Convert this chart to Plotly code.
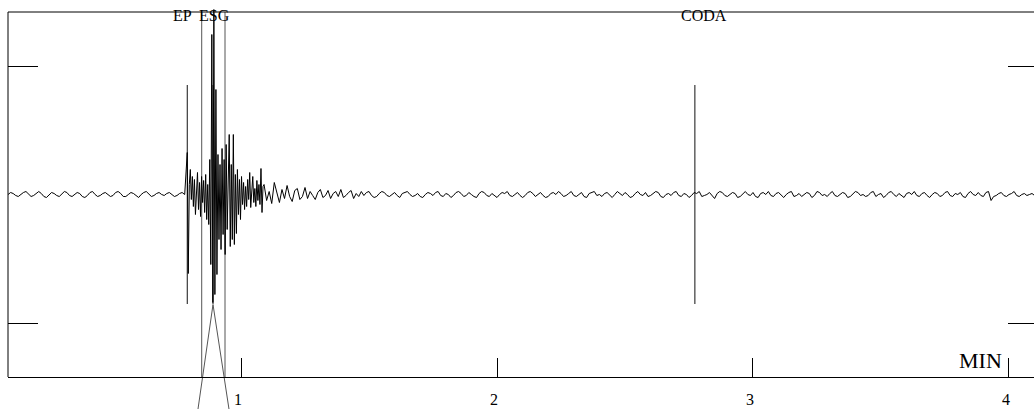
import plotly.graph_objects as go

# ---------------- data ----------------
# seismogram amplitude (counts, up = positive), three sampled segments
PRE_T0, PRE_DT = 0.09, 0.01          # minutes
pre_counts = [0, 2, 1, -1, -2, 0, 2, 3, 0, -2, -1, 1, 3, 1, -2, -3, 0, 2, 1, -1,
              -2, 1, 3, 2, -1, -2, 0, 2, 1, -2, -3, -1, 2, 3, 0, -2, -1, 1, 2, 0,
              -2, -1, 2, 3, 1, -2, -2, 0, 2, 1, -1, -3, 0, 2, 3, 0, -2, -1, 1, 2,
              0, -1, 1, 2, 0, -2, -1, 1, 2, 0]

STRONG_T0, STRONG_DT = 0.79, 0.004
strong_counts = [42, -79, 10, 25, -5, 18, -12, 15, -20, 8, 22, -15, 12, -22, 18, -8,
                 14, -18, 20, -25, 10, -30, 35, -70, 160, -108, 185, -100, 105, -80,
                 40, -45, 30, -55, 46, -40, 35, -60, 50, -35, 25, 60, -52, 30, -45,
                 60, -50, 20, -39, 25, -20, 15, -25, 18, -10, 12, -15, 8, -12, 15,
                 -5, 22, -13, 10, 18, -8, 6, -12, 14, -6, 10, -10, 26, -18, 8]

CODA_T0, CODA_DT = 1.09, 0.01
coda_counts = [10, -6, 3, -9, 12, 2, -8, 5, -4, 9, -2, -7, 4, 6, -5, -2, 7, -4, 3, -1,
               -5, 2, 5, -3, -1, 4, -4, 1, 3, -2, 5, -3, -1, 2, 4, -4, 1, -2, 3, -1,
               2, 3, -1, -3, -2, 1, 3, 2, -1, -2, 0, 2, -1, -3, 1, 2, 3, 0, -2, -1,
               1, -2, -3, 0, 2, 1, -1, 2, 3, -1, -2, 1, 0, -3, -1, 2, 3, 1, -2, -1,
               2, 0, -2, -3, 1, 3, 2, -1, -2, 1, -1, -3, 0, 2, 1, 3, -1, -2, 0, 2,
               -1, -3, -1, 2, 3, 1, -2, 0, 2, -1, -3, -2, 1, 2, 0, 3, 1, -2, -1, 1,
               3, -1, -2, 0, 2, -2, -3, 1, 2, 3, -1, 0, -2, 1, 2, -1, -3, 0, 3, 1,
               -1, 2, 0, -3, -2, 1, 3, 0, -1, 2, -2, -1, 1, 3, 2, -2, -3, 0, 1, -1,
               2, 3, -1, -2, 1, 0, -3, -1, 2, 1, 3, -2, -1, 0, 2, -1, -4, 1, 3, 2,
               -1, -2, 0, 2, 1, -3, -2, 1, 3, 0, -1, 2, -2, -3, 1, 2, 0, 3, -1, -2,
               1, 2, -1, -3, 0, 2, 3, -2, -1, 1, -2, 0, 2, 1, -3, -1, 3, 2, -1, 0,
               -2, 1, 3, -1, -2, 0, 2, 1, -3, -2, 1, 3, 2, -1, 0, -2, -1, 2, 3, -2,
               0, 1, -3, -1, 2, 3, 0, -2, 1, -1, -3, 1, 2, 0, 3, -1, -2, 1, 2, -1,
               -3, 0, 2, 1, -2, -1, 2, 3, -1, -2, 1, 0, 2, -2, -3, 1, 3, 0, -1, 2,
               -1, -2, 2, 3, -6, -2, -1, 1, 2, -1, -2, 0, 1, 3, -1, -2, 0, 1, -1, 0,
               1, -1]

# phase picks (minutes)
pick_labels = ["EP", "ESG", "CODA"]
pick_times = [0.790, 0.8906, 2.773]
PICK_HALF = 109.5                      # counts

# period / amplitude measurement marks (minutes)
period_times = [0.8465, 0.9375]
apex_time, apex_count = 0.8906, -110.0
foot_times, foot_count = [0.832, 0.953], -214.5

# axis ticks
tick_minutes = [1, 2, 3, 4]
tick_labels = ["1", "2", "3", "4"]
scale_counts = [-128.5, 128.5]
FRAME = 182.5
X_RANGE = [0.0898, 4.0977]
Y_RANGE = [-214.5, 194.5]
W, H = 1034, 409

# ---------------- figure ----------------
def seg(t0, dt, vals):
    return [t0 + i * dt for i in range(len(vals))], vals

t1, v1 = seg(PRE_T0, PRE_DT, pre_counts)
t2, v2 = seg(STRONG_T0, STRONG_DT, strong_counts)
t3, v3 = seg(CODA_T0, CODA_DT, coda_counts)
t_all = t1 + t2 + t3
v_all = v1 + v2 + v3

fig = go.Figure()

# pick lines
px, py = [], []
for t in pick_times:
    px += [t, t, None]
    py += [PICK_HALF, -PICK_HALF, None]
fig.add_trace(go.Scatter(x=px, y=py, mode="lines", line=dict(color="#111", width=1),
                         hoverinfo="skip", showlegend=False))

# period lines
qx, qy = [], []
for t in period_times:
    qx += [t, t, None]
    qy += [FRAME, -FRAME, None]
for t in foot_times:
    qx += [apex_time, t, None]
    qy += [apex_count, foot_count, None]
fig.add_trace(go.Scatter(x=qx, y=qy, mode="lines", line=dict(color="#555", width=1),
                         hoverinfo="skip", showlegend=False))

# seismogram
fig.add_trace(go.Scatter(x=t_all, y=v_all, mode="lines", line=dict(color="#000", width=1),
                         hoverinfo="skip", showlegend=False))

# dummy trace for right scale axis
fig.add_trace(go.Scatter(x=[pick_times[0]], y=[0], yaxis="y2", mode="lines",
                         line=dict(width=0), hoverinfo="skip", showlegend=False))

serif = "Liberation Serif"
for lab, t in zip(pick_labels, pick_times):
    fig.add_annotation(x=t, y=FRAME, xref="x", yref="y", text=lab, showarrow=False,
                       xanchor="left", yanchor="middle", xshift=-16, yshift=-3,
                       font=dict(family=serif, size=16, color="#000"))
fig.add_annotation(x=3.980, y=-165.5, xref="x", yref="y", text="MIN", showarrow=False,
                   xanchor="right", yanchor="middle",
                   font=dict(family=serif, size=22, color="#000"))

# frame lines
fig.add_shape(type="line", xref="paper", yref="y", x0=0, x1=1, y0=FRAME, y1=FRAME,
              line=dict(color="#000", width=1))
fig.add_shape(type="line", xref="paper", yref="y", x0=0, x1=0, y0=-FRAME, y1=FRAME,
              line=dict(color="#000", width=1))

fig.update_layout(
    width=W, height=H,
    margin=dict(l=8, r=0, t=0, b=0, pad=0, autoexpand=False),
    paper_bgcolor="white", plot_bgcolor="white",
    showlegend=False,
    xaxis=dict(range=X_RANGE, showgrid=False, zeroline=False, showline=True,
               linecolor="#000", linewidth=1, ticks="inside", ticklen=19,
               tickcolor="#000", tickwidth=1, tickvals=tick_minutes, ticktext=tick_labels,
               tickfont=dict(family=serif, size=16, color="#000"),
               anchor="free", position=32 / H, ticklabelstandoff=8, ticklabelshift=-3,
               automargin=False),
    yaxis=dict(range=Y_RANGE, showgrid=False, zeroline=False, showline=False,
               ticks="inside", ticklen=30, tickcolor="#000", tickwidth=1,
               tickvals=scale_counts, showticklabels=False, automargin=False),
    yaxis2=dict(range=Y_RANGE, overlaying="y", side="right", showgrid=False,
                zeroline=False, showline=False, ticks="inside", ticklen=26,
                tickcolor="#000", tickwidth=1, tickvals=scale_counts,
                showticklabels=False, automargin=False),
)

fig.write_html(
    "out.html",
    config={"displayModeBar": False},
    post_script="document.body.style.margin='0';document.body.style.overflow='hidden';",
)
